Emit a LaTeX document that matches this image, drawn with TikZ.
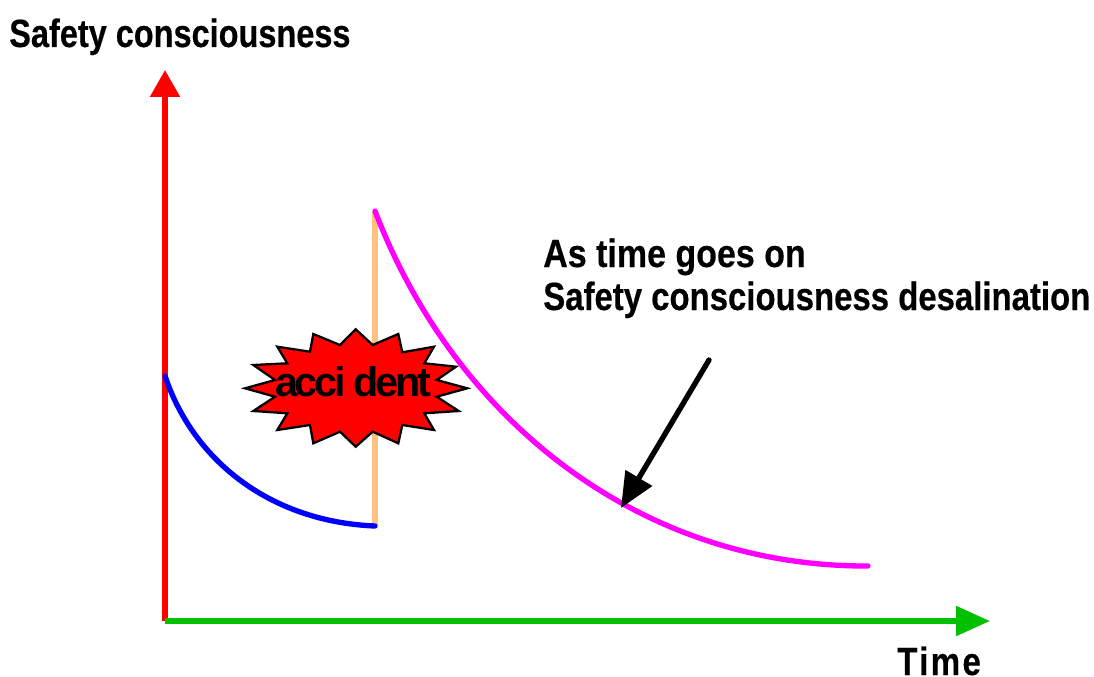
\documentclass[tikz,border=0pt]{standalone}
\usepackage{fontspec}
\setmainfont{Liberation Sans}
\usetikzlibrary{arrows.meta}
\definecolor{ygreen}{RGB}{0,192,0}
\definecolor{peach}{RGB}{255,192,128}
\definecolor{pmag}{RGB}{255,0,255}
\tikzset{
  lbl/.style={font=\bfseries\fontsize{29.5}{34}\selectfont\addfontfeatures{FakeStretch=#1,FakeBold=0.4},inner sep=0pt,anchor=base west},
  curve/.style={line width=4pt,line cap=round},
}
\begin{document}
\begin{tikzpicture}[x=0.75pt,y=-0.75pt]
\useasboundingbox (0,0) rectangle (1094,677);
\coordinate (o) at (165,621);
\coordinate (ytip) at (165,70);
\coordinate (xtip) at (990,621);
\coordinate (pt) at (375,211);
\coordinate (pb) at (375,526);
\coordinate (bs) at (165,376);
\coordinate (me) at (868,566);
\coordinate (as) at (709,360);
\coordinate (ae) at (621,508);
\draw[peach,line width=4pt] (pt) -- (pb);
\draw[red,line width=4pt,-{Triangle[length=27*0.75pt,width=29*0.75pt]}] (o) -- (ytip);
\draw[ygreen,line width=4pt,-{Triangle[length=34*0.75pt,width=29*0.75pt]}] (o) -- (xtip);
\draw[blue,curve] (bs) .. controls (195,465) and (275,522) .. (pb);
\draw[pmag,curve] (pt) .. controls (455,420) and (640,567) .. (me);
\draw[black,line width=4pt,line cap=round,-{Triangle[length=35*0.75pt,width=30*0.75pt]}] (as) -- (ae);
\draw[black,fill=red,line width=1.7pt,line join=miter]
 (355.7,329.3) -- (372.7,345) -- (398.3,334) -- (402.3,352.3) -- (434,346.7) -- (424.3,363.3) -- (456,366.7) -- (436.7,380) -- (467.3,388.3) -- (436.7,396.7) -- (458.7,411) -- (424.3,413.3) -- (434,430) -- (402.3,425) -- (398.3,443.3) -- (372.7,431.7) -- (355.7,446.7) -- (340,431.7) -- (313.3,443.3) -- (310,425) -- (277.3,430) -- (287.3,413.3) -- (253.3,411) -- (275,396.7) -- (245,388.3) -- (275,380) -- (253.3,365) -- (287.3,363.3) -- (277.3,346.7) -- (310,351.7) -- (313.3,334) -- (340,345) -- cycle;
\node[inner sep=0pt,anchor=base west,font=\bfseries\fontsize{31}{36}\selectfont\addfontfeatures{LetterSpace=-8}] (acc) at (275,396) {acci dent};
\node[lbl=0.826] (yl) at (9,47) {Safety consciousness};
\node[lbl=0.864] (t1) at (543,267) {As time goes on};
\node[lbl=0.837] (t2) at (543,310) {Safety consciousness desalination};
\node[lbl=1,font=\bfseries\fontsize{29.5}{34}\selectfont\addfontfeatures{FakeStretch=0.84,FakeBold=0.4,LetterSpace=6}] (xl) at (897,675) {Time};
\end{tikzpicture}
\end{document}
